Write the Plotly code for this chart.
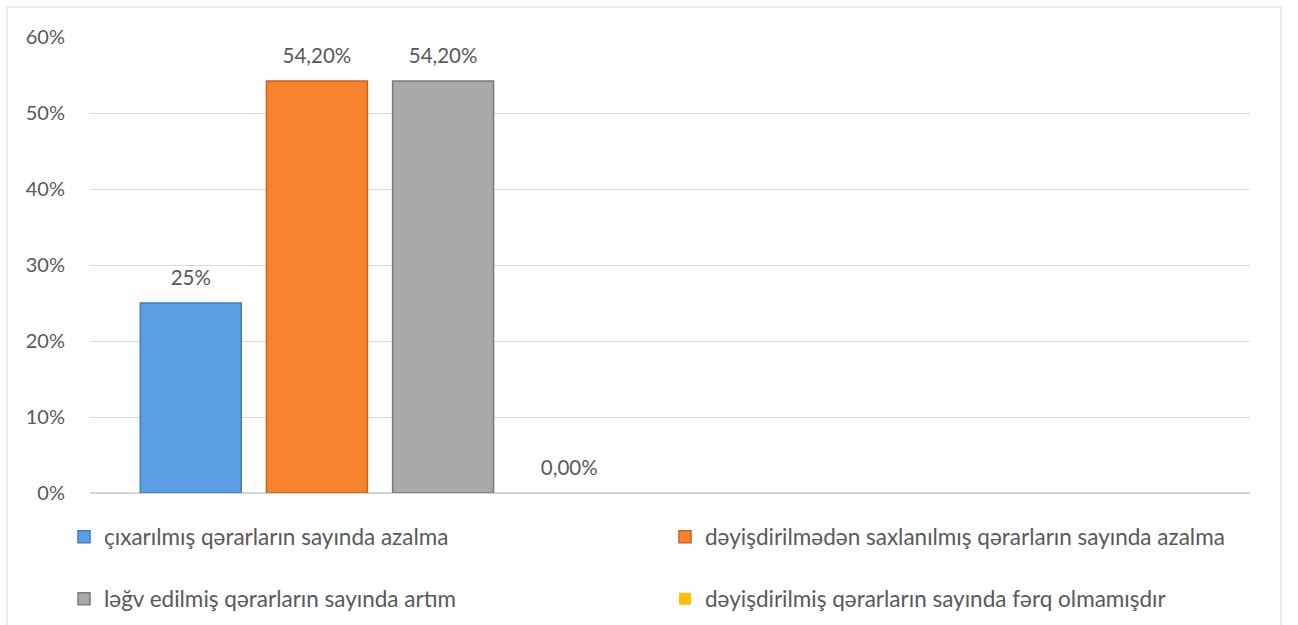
import plotly.graph_objects as go

categories = ["k1", "k2"]
series_names = [
    "çıxarılmış qərarların sayında azalma",
    "dəyişdirilmədən saxlanılmış qərarların sayında azalma",
    "ləğv edilmiş qərarların sayında artım",
    "dəyişdirilmiş qərarların sayında fərq olmamışdır",
]
series_values = [
    [0.25, None],
    [0.542, None],
    [0.542, None],
    [0.0, None],
]
series_labels = ["25%", "54,20%", "54,20%", "0,00%"]
y_tick_vals = [0, 0.1, 0.2, 0.3, 0.4, 0.5, 0.6]
y_tick_text = ["0%", "10%", "20%", "30%", "40%", "50%", "60%"]

colors = ["#5BA0E4", "#F7842C", "#A9A9A9", "#FFC000"]
edge_colors = ["#3D7EC2", "#C9621D", "#7A7A7A", "#FFC000"]
edge_widths = [1.5, 1.5, 1.5, 0]
legend_ids = ["legend", "legend", "legend2", "legend2"]

FONT = "Lato"
TXT = "#595959"
GAP = 0.13

fig = go.Figure()
for i, name in enumerate(series_names):
    fig.add_trace(go.Bar(
        x=categories,
        y=series_values[i],
        name=name,
        marker=dict(color=colors[i], line=dict(color=edge_colors[i], width=edge_widths[i])),
        legend=legend_ids[i],
        hoverinfo="skip",
    ))

# data labels: grouped scatter traces aligned with the bar slots
for i, name in enumerate(series_names):
    fig.add_trace(go.Scatter(
        x=categories,
        y=series_values[i],
        mode="markers+text",
        text=[series_labels[i], ""],
        textposition="top center",
        textfont=dict(family=FONT, size=20.5, color=TXT),
        marker=dict(size=19, color="rgba(0,0,0,0)"),
        showlegend=False,
        hoverinfo="skip",
        cliponaxis=False,
    ))

legend_common = dict(
    orientation="h",
    x=-0.0224, xanchor="left", yanchor="middle",
    entrywidth=556, entrywidthmode="pixels", itemwidth=30,
    font=dict(family=FONT, size=22.5, color=TXT), bgcolor="rgba(0,0,0,0)",
    traceorder="normal",
)

fig.update_layout(
    width=1298,
    height=625,
    margin=dict(l=90, r=48, t=37, b=132, autoexpand=False),
    paper_bgcolor="white",
    plot_bgcolor="white",
    barmode="group",
    bargap=GAP,
    bargroupgap=0.2,
    scattermode="group",
    scattergap=GAP,
    font=dict(family=FONT, size=20, color=TXT),
    showlegend=True,
    legend=dict(legend_common, y=-0.0965),
    legend2=dict(legend_common, y=-0.2325),
    xaxis=dict(
        showticklabels=False, showgrid=False, zeroline=False,
        showline=False, ticks="",
    ),
    yaxis=dict(
        range=[0, 0.6], tickvals=y_tick_vals, ticktext=y_tick_text,
        showgrid=True, gridcolor="#D9D9D9", gridwidth=1,
        zeroline=True, zerolinecolor="#D4D4D4", zerolinewidth=2,
        showline=False, ticks="", ticklabelstandoff=24,
        tickfont=dict(family=FONT, size=20, color=TXT),
    ),
    shapes=[dict(
        type="rect", xref="paper", yref="paper",
        x0=-0.0716, x1=1.0267, y0=-0.31, y1=1.0658,
        line=dict(color="#D9D9D9", width=1), fillcolor="rgba(0,0,0,0)",
        layer="below",
    )],
)

fig.write_html(
    "out.html",
    config={"displayModeBar": False},
    post_script="document.body.style.margin='0';",
)
